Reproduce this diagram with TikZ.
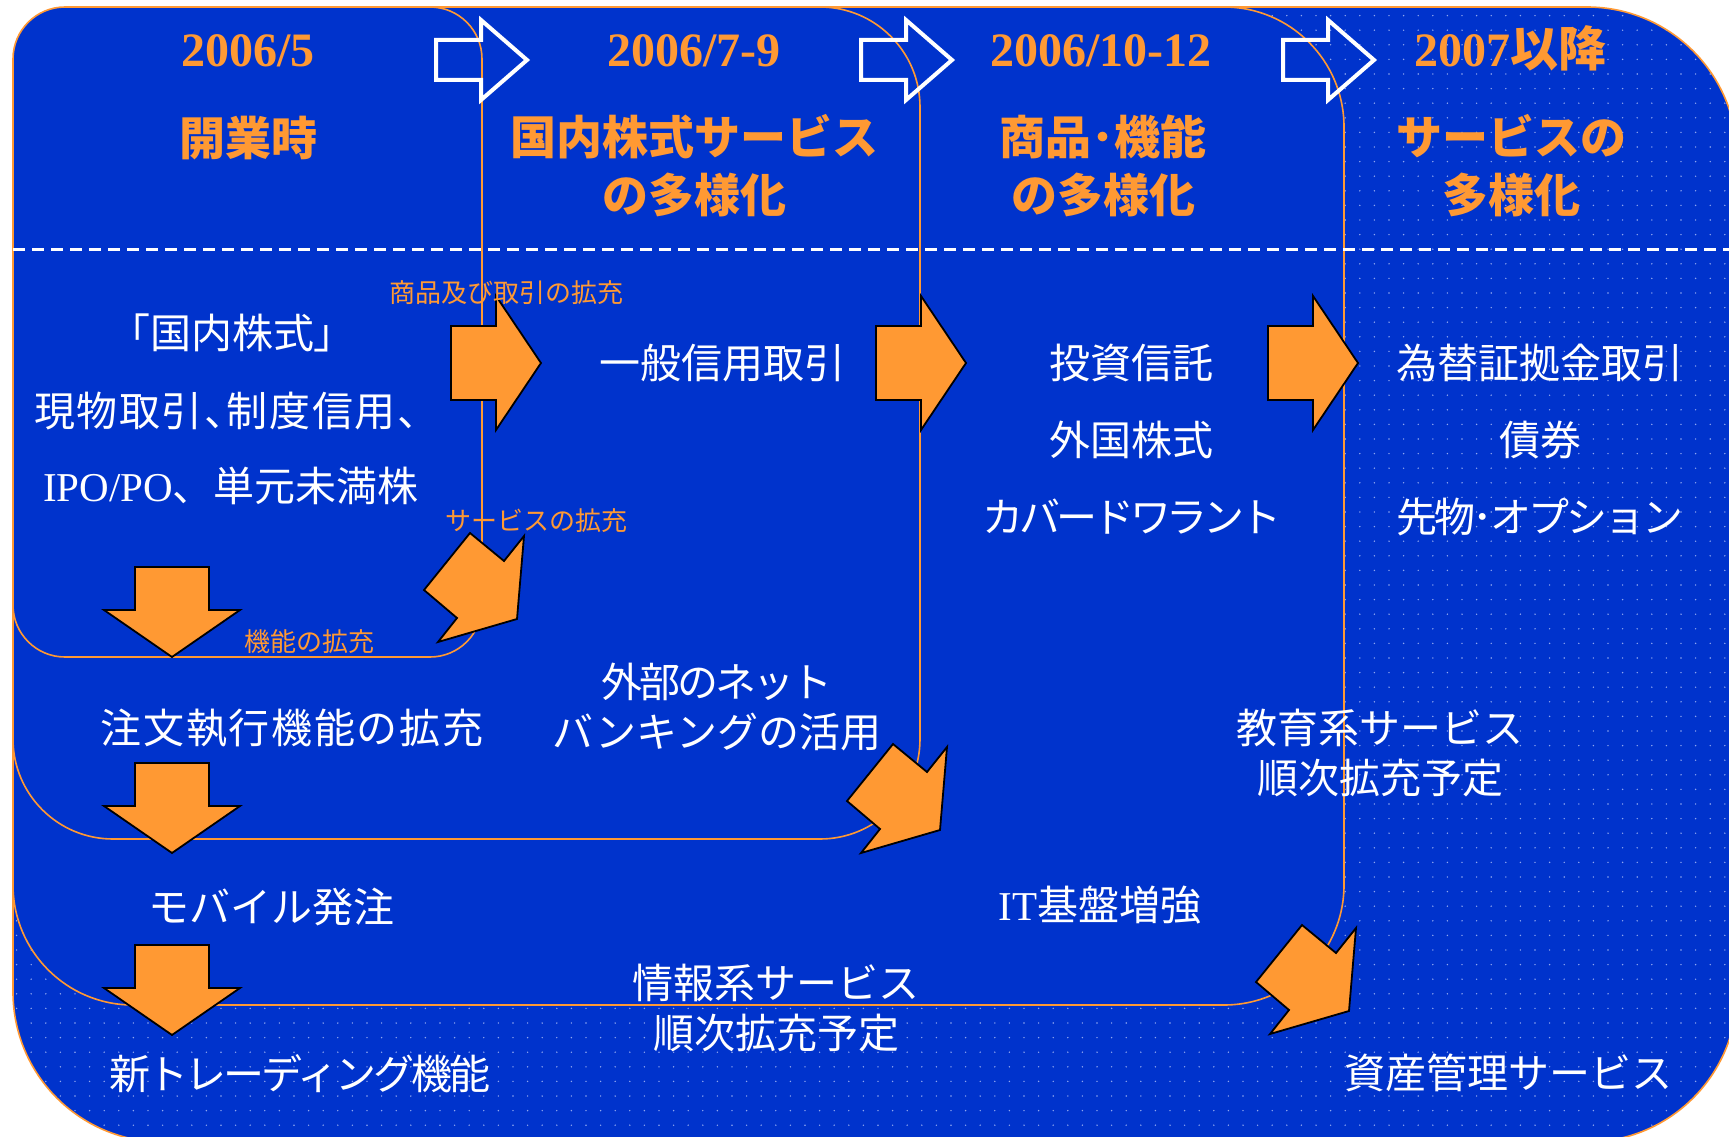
\documentclass[tikz,border=0pt]{standalone}
\usepackage{fontspec}
\setmainfont{Liberation Serif}
\newfontfamily\jp{Noto Sans CJK JP}
\newfontfamily\jpp[RawFeature=+palt]{Noto Sans CJK JP}
\definecolor{bg}{HTML}{0033CC}
\definecolor{org}{HTML}{FF9933}
\definecolor{dotc}{HTML}{8FA6F0}
\begin{document}
\begin{tikzpicture}[x=1pt,y=-1pt,
  rectline/.style={draw=org, line width=1.6pt, fill=bg},
  hdate/.style={text=org, font=\bfseries\fontsize{48}{56}\selectfont, inner sep=0, text height=42pt, text depth=6pt},
  hjp/.style={text=org, font=\jp\bfseries\fontsize{46}{54}\selectfont, inner sep=0, text height=40.5pt, text depth=5.5pt},
  body/.style={text=white, font=\jp\fontsize{41}{49}\selectfont, inner sep=0, text height=36pt, text depth=5pt},
  bodyp/.style={body, font=\jpp\fontsize{41}{49}\selectfont},
  bodyps/.style={body, font=\jpp\fontsize{41}{49}\selectfont\addfontfeature{LetterSpace=#1}},
  spaced/.style={body, font=\jp\fontsize{41}{49}\selectfont\addfontfeature{LetterSpace=#1}},
  small/.style={text=org, font=\jp\fontsize{26}{30}\selectfont, inner sep=0, text height=23pt, text depth=3pt},
  oarrow/.style={fill=org, draw=black, line width=1.8pt, line join=miter},
  harrow/.style={draw=white, line width=4pt, line join=miter},
  rarr/.pic={\path[oarrow] (0,-37) -- (45,-37) -- (45,-67) -- (90,0) -- (45,67) -- (45,37) -- (0,37) -- cycle;},
  darr/.pic={\path[oarrow] (-37,0) -- (37,0) -- (37,43) -- (68,43) -- (0,90) -- (-68,43) -- (-37,43) -- cycle;},
  diagarr/.pic={\path[oarrow] (0,0) -- (46,-57) -- (80,-29) -- (100,-54) -- (93,29) -- (14,52) -- (33,28) -- cycle;},
  hdrarr/.pic={\path[harrow] (2,-20) -- (47,-20) -- (47,-40) -- (93,0) -- (47,40) -- (47,20) -- (2,20) -- cycle;}
]
\useasboundingbox (0,0) rectangle (1729,1137);
\clip (0,0) rectangle (1729,1137);
\fill[white] (0,0) rectangle (1729,1137);

% outer frame with dotted texture
\fill[bg, rounded corners=150pt] (13,7) rectangle (1737,1142);
\begin{scope}
  \clip[rounded corners=150pt] (13,7) rectangle (1737,1142);
  \fill[dotc] \foreach \i in {0,...,35}{\foreach \j in {0,...,77}{(1228.4+14.6*\i,15.6+14.6*\j) circle[radius=0.8]}};
  \fill[dotc] \foreach \i in {-83,...,-1}{\foreach \j in {60,...,77}{(1228.4+14.6*\i,15.6+14.6*\j) circle[radius=0.8]}};
\end{scope}
\draw[draw=org, line width=1.6pt, rounded corners=150pt] (13,7) rectangle (1737,1142);

% nested phase frames
\path[rectline, rounded corners=120pt] (13,7) rectangle (1344,1005);
\path[rectline, rounded corners=100pt] (13,7) rectangle (920,839);
\path[rectline, rounded corners=52pt] (13,7) rectangle (482,657);

% divider
\draw[white, line width=3pt, dash pattern=on 12pt off 7pt] (13,249) -- (1737,249);

% header arrows
\pic (ha1) at (434,60) {hdrarr};
\pic (ha2) at (859,60) {hdrarr};
\pic (ha3) at (1281,60) {hdrarr};

% header texts
\node[hdate] (d1) at (248,49) {2006/5};
\node[hdate] (d2) at (694,49) {2006/7-9};
\node[hdate] (d3) at (1101,49) {2006/10-12};
\node[hdate] (d4) at (1510,49) {2007{\jp 以降}};
\node[hjp] (h1) at (248,138) {開業時};
\node[hjp] (h2a) at (694,137) {国内株式サービス};
\node[hjp] (h2b) at (694,195) {の多様化};
\node[hjp] (h3a) at (1103,137) {商品･機能};
\node[hjp] (h3b) at (1103,195) {の多様化};
\node[hjp] (h4a) at (1511,137) {サービスの};
\node[hjp] (h4b) at (1511,195) {多様化};

% orange arrows
\pic (ra1) at (451,363) {rarr};
\pic (ra2) at (876,363) {rarr};
\pic (ra3) at (1268,363) {rarr};
\pic (da1) at (172,567) {darr};
\pic (da2) at (172,763) {darr};
\pic (da3) at (172,945) {darr};
\pic (ga1) at (424,590) {diagarr};
\pic (ga2) at (847,801) {diagarr};
\pic (ga3) at (1256,982) {diagarr};

% small orange labels
\node[small] (l1) at (506,292) {商品及び取引の拡充};
\node[small] (l2) at (536,520) {サービスの拡充};
\node[small] (l3) at (309,641) {機能の拡充};

% column 1
\node[bodyp] (t1) at (232,333) {「国内株式」};
\node[bodyps=4] (t2) at (226,411) {現物取引、制度信用、};
\node[body] (t3) at (231,486) {{\rmfamily IPO/PO}、単元未満株};
\node[spaced=4] (t4) at (292,728) {注文執行機能の拡充};
\node[body] (t5) at (271,907) {モバイル発注};
\node[spaced=-7] (t6) at (300,1074) {新トレーディング機能};

% column 2
\node[body] (t7) at (722,363) {一般信用取引};
\node[spaced=-7] (t8) at (717,682) {外部のネット};
\node[body] (t9) at (717,732) {バンキングの活用};
\node[body] (t10) at (776,983) {情報系サービス};
\node[body] (t11) at (776,1033) {順次拡充予定};

% column 3
\node[body] (t12) at (1131,363) {投資信託};
\node[body] (t13) at (1131,440) {外国株式};
\node[spaced=-10] (t14) at (1132,517) {カバードワラント};
\node[body] (t15) at (1380,728) {教育系サービス};
\node[body] (t16) at (1380,778) {順次拡充予定};
\node[body] (t17) at (1100,905) {{\rmfamily IT}基盤増強};

% column 4
\node[body] (t18) at (1540,363) {為替証拠金取引};
\node[body] (t19) at (1540,440) {債券};
\node[spaced=-7] (t20) at (1540,517) {先物･オプション};
\node[body] (t21) at (1508,1073) {資産管理サービス};
\end{tikzpicture}
\end{document}
